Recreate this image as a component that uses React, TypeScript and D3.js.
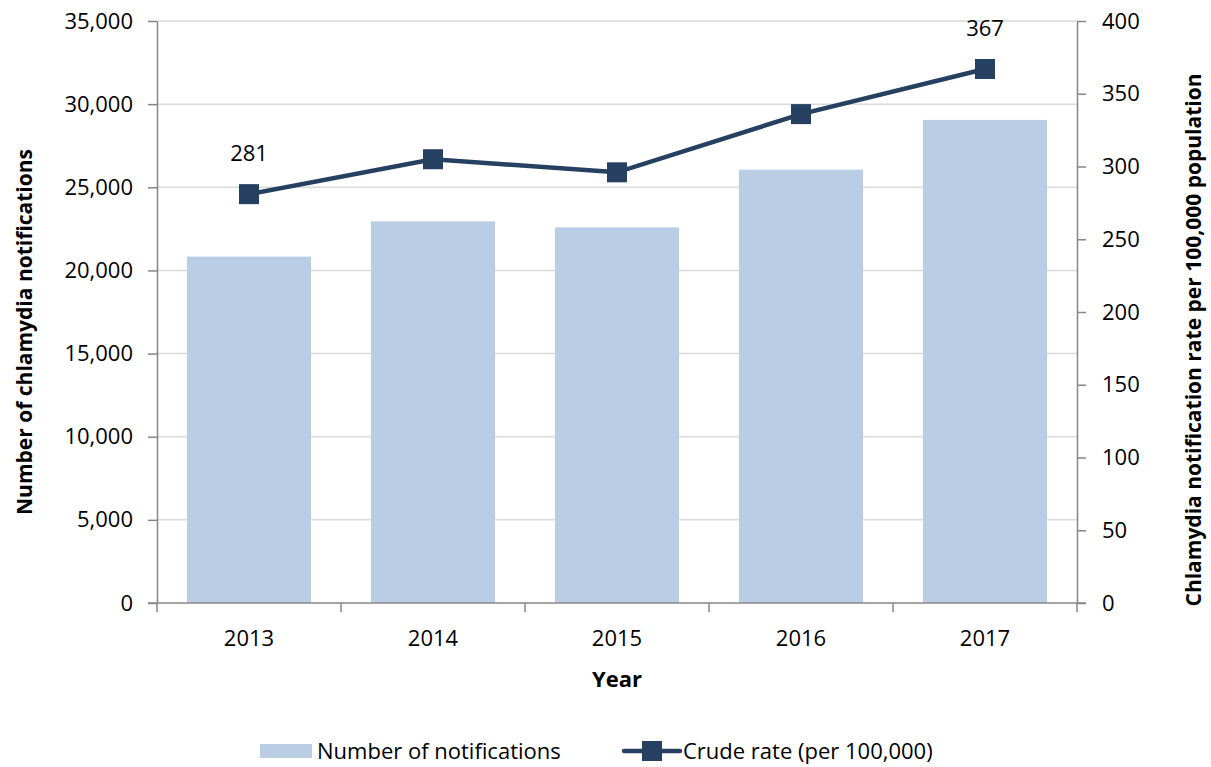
import React, { useEffect, useRef } from "react";
import * as d3 from "d3";

const years = ["2013", "2014", "2015", "2016", "2017"];
const notifications = [20830, 22950, 22590, 26060, 29050];
const crudeRate = [281, 305, 296, 336, 367];
const rateLabels = ["281", "", "", "", "367"];
const leftTicks = [0, 5000, 10000, 15000, 20000, 25000, 30000, 35000];
const rightTicks = [0, 50, 100, 150, 200, 250, 300, 350, 400];

const FONT = "'Open Sans', 'Noto Sans', sans-serif";
const FS = 22;

export default function App() {
  const ref = useRef<SVGSVGElement | null>(null);

  useEffect(() => {
    const W = 1211;
    const H = 767;
    const margin = { top: 21, right: 134, bottom: 164, left: 157 };
    const width = W - margin.left - margin.right;
    const height = H - margin.top - margin.bottom;

    const svg = d3.select(ref.current);
    svg.selectAll("*").remove();

    const g = svg
      .append("g")
      .attr("transform", `translate(${margin.left},${margin.top})`);

    const x = d3.scaleBand().domain(years).range([0, width]).paddingInner(0.326).paddingOuter(0.163);
    const xCat = d3.scaleBand().domain(years).range([0, width]);
    const yLeft = d3.scaleLinear().domain([0, 35000]).range([height, 0]);
    const yRight = d3.scaleLinear().domain([0, 400]).range([height, 0]);

    // gridlines
    g.append("g")
      .selectAll("line")
      .data(leftTicks.filter((d) => d > 0))
      .join("line")
      .attr("x1", 0)
      .attr("x2", width)
      .attr("y1", (d) => yLeft(d))
      .attr("y2", (d) => yLeft(d))
      .attr("stroke", "#d9d9d9")
      .attr("stroke-width", 1.5);

    // bars
    g.append("g")
      .selectAll("rect")
      .data(years)
      .join("rect")
      .attr("x", (d) => x(d) as number)
      .attr("width", x.bandwidth())
      .attr("y", (d, i) => yLeft(notifications[i]))
      .attr("height", (d, i) => height - yLeft(notifications[i]))
      .attr("fill", "#b9cde5");

    const styleAxis = (sel: d3.Selection<SVGGElement, unknown, null, undefined>) => {
      sel.select(".domain").attr("stroke", "#868686").attr("stroke-width", 1.5);
      sel.selectAll(".tick line").attr("stroke", "#868686").attr("stroke-width", 1.5);
      sel.selectAll("text")
        .attr("font-family", FONT)
        .attr("font-size", FS)
        .attr("fill", "#000");
    };

    // left axis
    const left = g
      .append("g")
      .call(
        d3.axisLeft(yLeft)
          .tickValues(leftTicks)
          .tickSize(9)
          .tickSizeOuter(0)
          .tickPadding(15)
          .tickFormat((d) => d3.format(",")(d as number))
      );
    styleAxis(left);

    // right axis
    const right = g
      .append("g")
      .attr("transform", `translate(${width},0)`)
      .call(d3.axisRight(yRight).tickValues(rightTicks).tickSize(9).tickSizeOuter(0).tickPadding(16));
    styleAxis(right);

    // bottom axis with ticks between categories
    const bottom = g.append("g").attr("transform", `translate(0,${height})`);
    bottom
      .append("line")
      .attr("x1", -9)
      .attr("x2", width + 9)
      .attr("stroke", "#868686")
      .attr("stroke-width", 1.5);
    const boundaries = [...years.map((d) => xCat(d) as number), width];
    bottom
      .selectAll("line.tick")
      .data(boundaries)
      .join("line")
      .attr("class", "tick")
      .attr("x1", (d) => d)
      .attr("x2", (d) => d)
      .attr("y1", 0)
      .attr("y2", 9)
      .attr("stroke", "#868686")
      .attr("stroke-width", 1.5);
    bottom
      .selectAll("text")
      .data(years)
      .join("text")
      .attr("x", (d) => (xCat(d) as number) + xCat.bandwidth() / 2)
      .attr("y", 43)
      .attr("text-anchor", "middle")
      .attr("font-family", FONT)
      .attr("font-size", FS)
      .text((d) => d);

    // line
    const cx = (i: number) => (xCat(years[i]) as number) + xCat.bandwidth() / 2;
    const line = d3
      .line<number>()
      .x((d, i) => cx(i))
      .y((d) => yRight(d));
    g.append("path")
      .datum(crudeRate)
      .attr("d", line)
      .attr("fill", "none")
      .attr("stroke", "#254061")
      .attr("stroke-width", 4.5);
    g.append("g")
      .selectAll("rect")
      .data(crudeRate)
      .join("rect")
      .attr("x", (d, i) => cx(i) - 10)
      .attr("y", (d) => yRight(d) - 10)
      .attr("width", 20)
      .attr("height", 20)
      .attr("fill", "#254061");

    g.append("g")
      .selectAll("text")
      .data(crudeRate)
      .join("text")
      .attr("x", (d, i) => cx(i))
      .attr("y", (d) => yRight(d) - 33)
      .attr("text-anchor", "middle")
      .attr("font-family", FONT)
      .attr("font-size", FS)
      .text((d, i) => rateLabels[i]);

    // axis titles
    svg
      .append("text")
      .attr("transform", `translate(32,${margin.top + height / 2 + 20}) rotate(-90)`)
      .attr("text-anchor", "middle")
      .attr("font-family", FONT)
      .attr("font-weight", "bold")
      .attr("font-size", 21)
      .text("Number of chlamydia notifications");

    svg
      .append("text")
      .attr("transform", `translate(1201,${margin.top + height / 2 + 28}) rotate(-90)`)
      .attr("text-anchor", "middle")
      .attr("font-family", FONT)
      .attr("font-weight", "bold")
      .attr("font-size", 21)
      .text("Chlamydia notification rate per 100,000 population");

    svg
      .append("text")
      .attr("x", margin.left + width / 2)
      .attr("y", 687)
      .attr("text-anchor", "middle")
      .attr("font-family", FONT)
      .attr("font-weight", "bold")
      .attr("font-size", FS)
      .text("Year");

    // legend
    const lg = svg.append("g").attr("transform", "translate(0,751)");
    lg.append("rect").attr("x", 260).attr("y", -7).attr("width", 52).attr("height", 14).attr("fill", "#b9cde5");
    lg.append("text")
      .attr("x", 317)
      .attr("y", 8)
      .attr("font-family", FONT)
      .attr("font-size", FS)
      .text("Number of notifications");
    lg.append("line")
      .attr("x1", 624)
      .attr("x2", 680)
      .attr("stroke", "#254061")
      .attr("stroke-width", 4.5)
      .attr("stroke-linecap", "round");
    lg.append("rect").attr("x", 642).attr("y", -10).attr("width", 20).attr("height", 20).attr("fill", "#254061");
    lg.append("text")
      .attr("x", 683)
      .attr("y", 8)
      .attr("font-family", FONT)
      .attr("font-size", FS)
      .text("Crude rate (per 100,000)");
  }, []);

  return (
    <svg
      ref={ref}
      width={1211}
      height={767}
      style={{ position: "absolute", left: 0, top: 0, background: "#fff" }}
    />
  );
}
